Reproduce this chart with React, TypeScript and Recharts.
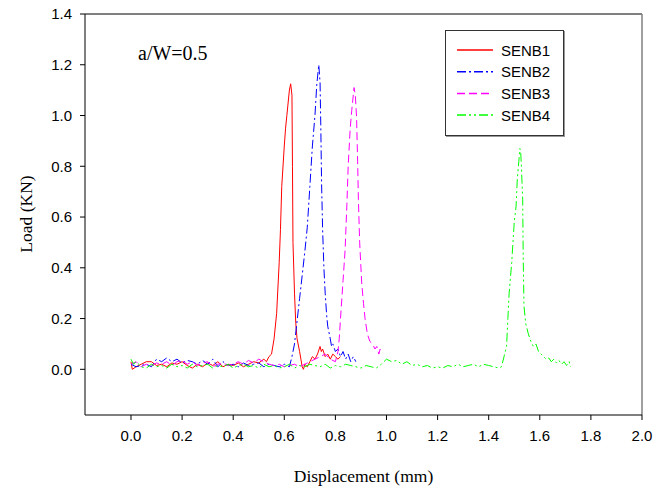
import { Line, LineChart, ReferenceLine, XAxis, YAxis } from "recharts";

const xTicks = [0, 0.2, 0.4, 0.6, 0.8, 1.0, 1.2, 1.4, 1.6, 1.8, 2.0];
const yTicks = [0, 0.2, 0.4, 0.6, 0.8, 1.0, 1.2, 1.4];

// [displacement (mm), load (kN)]
const senb1: [number, number][] = [
  [0, 0.03], [0.005, 0.0], [0.02, 0.01], [0.04, 0.02], [0.06, 0.03], [0.08, 0.03], [0.1, 0.015],
  [0.12, 0.02], [0.14, 0.01], [0.16, 0.025], [0.18, 0.02], [0.2, 0.03], [0.22, 0.015], [0.24, 0.005],
  [0.26, 0.02], [0.28, 0.01], [0.3, 0.025], [0.32, 0.015], [0.34, 0.03], [0.36, 0.01], [0.38, 0.02],
  [0.4, 0.015], [0.42, 0.025], [0.44, 0.01], [0.46, 0.02], [0.48, 0.03], [0.5, 0.025], [0.52, 0.04],
  [0.53, 0.03], [0.54, 0.05], [0.55, 0.06], [0.56, 0.12], [0.57, 0.22], [0.58, 0.42], [0.585, 0.55],
  [0.59, 0.72], [0.6, 0.88], [0.605, 0.95], [0.61, 1.0], [0.62, 1.1], [0.625, 1.125], [0.63, 1.08],
  [0.632, 0.8], [0.634, 0.5], [0.64, 0.3], [0.645, 0.18], [0.65, 0.12], [0.66, 0.07], [0.665, 0.04],
  [0.67, 0.01], [0.675, 0.0], [0.68, 0.02], [0.69, 0.01], [0.7, 0.03], [0.71, 0.05], [0.72, 0.04],
  [0.73, 0.06], [0.74, 0.09], [0.745, 0.07], [0.75, 0.08], [0.76, 0.05], [0.77, 0.06], [0.78, 0.04],
  [0.79, 0.06], [0.8, 0.05], [0.81, 0.04], [0.82, 0.05],
];

const senb2: [number, number][] = [
  [0, 0.02], [0.02, 0.01], [0.04, 0.015], [0.06, 0.02], [0.08, 0.01], [0.1, 0.04], [0.12, 0.03],
  [0.14, 0.045], [0.16, 0.03], [0.18, 0.04], [0.2, 0.025], [0.22, 0.035], [0.24, 0.03], [0.26, 0.02],
  [0.28, 0.035], [0.3, 0.02], [0.32, 0.04], [0.34, 0.01], [0.36, 0.03], [0.38, 0.015], [0.4, 0.02],
  [0.42, 0.01], [0.44, 0.025], [0.46, 0.015], [0.48, 0.02], [0.5, 0.025], [0.52, 0.01], [0.54, 0.02],
  [0.56, 0.015], [0.58, 0.01], [0.6, 0.02], [0.62, 0.01], [0.63, 0.05], [0.64, 0.1], [0.65, 0.19],
  [0.66, 0.28], [0.67, 0.37], [0.68, 0.46], [0.69, 0.56], [0.7, 0.72], [0.71, 0.88], [0.72, 1.0],
  [0.727, 1.12], [0.735, 1.2], [0.74, 1.13], [0.743, 0.95], [0.746, 0.73], [0.75, 0.55], [0.755, 0.4],
  [0.76, 0.3], [0.766, 0.21], [0.77, 0.17], [0.78, 0.12], [0.785, 0.09], [0.79, 0.1], [0.8, 0.07],
  [0.81, 0.08], [0.82, 0.05], [0.83, 0.07], [0.84, 0.04], [0.85, 0.06], [0.86, 0.03], [0.87, 0.05],
  [0.88, 0.03],
];

const senb3: [number, number][] = [
  [0, 0.02], [0.02, 0.03], [0.04, 0.01], [0.06, 0.02], [0.08, 0.015], [0.1, 0.025], [0.12, 0.02],
  [0.14, 0.03], [0.16, 0.015], [0.18, 0.03], [0.2, 0.035], [0.22, 0.02], [0.24, 0.03], [0.26, 0.015],
  [0.28, 0.025], [0.3, 0.03], [0.32, 0.01], [0.34, 0.02], [0.36, 0.025], [0.38, 0.015], [0.4, 0.02],
  [0.42, 0.03], [0.44, 0.02], [0.46, 0.035], [0.48, 0.025], [0.5, 0.04], [0.52, 0.03], [0.54, 0.02],
  [0.56, 0.015], [0.58, 0.02], [0.6, 0.01], [0.62, 0.015], [0.64, 0.02], [0.66, 0.01], [0.68, 0.02],
  [0.7, 0.03], [0.72, 0.04], [0.74, 0.05], [0.76, 0.06], [0.78, 0.04], [0.8, 0.03], [0.81, 0.07],
  [0.815, 0.12], [0.82, 0.2], [0.83, 0.35], [0.838, 0.47], [0.845, 0.65], [0.85, 0.8], [0.858, 0.95],
  [0.864, 1.02], [0.873, 1.11], [0.878, 1.08], [0.883, 0.99], [0.887, 0.82], [0.89, 0.67], [0.895, 0.5],
  [0.903, 0.34], [0.91, 0.26], [0.916, 0.2], [0.925, 0.14], [0.935, 0.11], [0.945, 0.1], [0.955, 0.08],
  [0.962, 0.09], [0.97, 0.06], [0.975, 0.08], [0.98, 0.07],
];

const senb4: [number, number][] = [
  [0, 0.04], [0.01, 0.02], [0.02, 0.03], [0.04, 0.01], [0.06, 0.005], [0.08, 0.02], [0.1, 0.01],
  [0.12, 0.015], [0.14, 0.005], [0.16, 0.02], [0.18, 0.01], [0.2, 0.015], [0.22, 0.005], [0.24, 0.02],
  [0.26, 0.01], [0.28, 0.015], [0.3, 0.02], [0.32, 0.005], [0.34, 0.015], [0.36, 0.01], [0.38, 0.02],
  [0.4, 0.005], [0.42, 0.015], [0.44, 0.02], [0.46, 0.01], [0.48, 0.015], [0.5, 0.005], [0.52, 0.02],
  [0.54, 0.01], [0.56, 0.015], [0.58, 0.005], [0.6, 0.01], [0.62, 0.02], [0.64, 0.005], [0.66, 0.015],
  [0.68, 0.01], [0.7, 0.02], [0.72, 0.015], [0.74, 0.01], [0.76, 0.02], [0.78, 0.005], [0.8, 0.015],
  [0.82, 0.01], [0.84, 0.02], [0.86, 0.015], [0.88, 0.01], [0.9, 0.005], [0.92, 0.015], [0.94, 0.01],
  [0.96, 0.005], [0.98, 0.02], [1.0, 0.04], [1.02, 0.03], [1.04, 0.035], [1.06, 0.02], [1.08, 0.03],
  [1.1, 0.015], [1.12, 0.02], [1.14, 0.01], [1.16, 0.015], [1.18, 0.005], [1.2, 0.01], [1.22, 0.005],
  [1.24, 0.015], [1.26, 0.01], [1.28, 0.02], [1.3, 0.01], [1.32, 0.015], [1.34, 0.02], [1.36, 0.01],
  [1.38, 0.02], [1.4, 0.015], [1.42, 0.01], [1.44, 0.005], [1.45, 0.01], [1.46, 0.05], [1.47, 0.09],
  [1.475, 0.2], [1.48, 0.3], [1.49, 0.42], [1.495, 0.5], [1.5, 0.58], [1.507, 0.64], [1.512, 0.75],
  [1.518, 0.82], [1.522, 0.87], [1.525, 0.86], [1.528, 0.8], [1.533, 0.67], [1.535, 0.45], [1.538, 0.25],
  [1.545, 0.18], [1.555, 0.14], [1.565, 0.11], [1.575, 0.09], [1.585, 0.1], [1.595, 0.07], [1.605, 0.06],
  [1.615, 0.05], [1.625, 0.04], [1.635, 0.045], [1.645, 0.03], [1.655, 0.04], [1.665, 0.025],
  [1.675, 0.035], [1.685, 0.02], [1.695, 0.03], [1.705, 0.015], [1.715, 0.03], [1.72, 0.01],
];

const series = [
  { name: "SENB1", points: senb1, color: "#ff0000", dash: undefined },
  { name: "SENB2", points: senb2, color: "#0000ff", dash: "9 3 2 3" },
  { name: "SENB3", points: senb3, color: "#ff00ff", dash: "8 4" },
  { name: "SENB4", points: senb4, color: "#00ff00", dash: "9 3 2 3 2 3" },
];

const sans = "'Liberation Sans', Arial, sans-serif";
const serif = "'Liberation Serif', 'Times New Roman', serif";

function LegendBox() {
  return (
    <div
      style={{
        position: "absolute",
        left: 445,
        top: 30,
        width: 117,
        height: 104,
        border: "1px solid #333",
        boxShadow: "1px 1px 0 #999",
        background: "#fff",
      }}
    >
      <svg width={117} height={104} style={{ display: "block" }}>
        {series.map((s, i) => {
          const y = 19 + i * 21.7;
          return (
            <g key={s.name}>
              <line x1={11} x2={47} y1={y} y2={y} stroke={s.color} strokeWidth={1.5} strokeDasharray={s.dash} />
              <text x={55} y={y + 5.5} fontSize={15} fontFamily={sans} fill="#000">
                {s.name}
              </text>
            </g>
          );
        })}
      </svg>
    </div>
  );
}

export default function App() {
  return (
    <div style={{ position: "absolute", left: 0, top: 0, width: 670, height: 488, background: "#fff" }}>
      <LineChart width={670} height={488} margin={{ top: 14, right: 28, bottom: 23, left: 20 }}>
        <XAxis
          type="number"
          dataKey="x"
          domain={[-0.18, 2.0]}
          ticks={xTicks}
          allowDataOverflow
          tickFormatter={(v: number) => v.toFixed(1)}
          tick={{ fill: "#000", fontSize: 15, fontFamily: sans }}
          tickSize={5}
          tickMargin={10}
          axisLine={{ stroke: "#000" }}
          tickLine={{ stroke: "#000" }}
          height={50}
          label={{ value: "Displacement (mm)", position: "insideBottom", offset: -17, fill: "#000", fontSize: 17.5, fontFamily: serif }}
        />
        <YAxis
          type="number"
          domain={[-0.18, 1.4]}
          ticks={yTicks}
          allowDataOverflow
          tickFormatter={(v: number) => v.toFixed(1)}
          tick={{ fill: "#000", fontSize: 15, fontFamily: sans }}
          tickSize={5}
          tickMargin={8}
          axisLine={{ stroke: "#000" }}
          tickLine={{ stroke: "#000" }}
          width={65}
        />
        <ReferenceLine y={1.4} stroke="#000" strokeWidth={1} />
        <ReferenceLine x={2.0} stroke="#808080" strokeWidth={1.5} />
        {series.map((s) => (
          <Line
            key={s.name}
            name={s.name}
            data={s.points.map(([x, y]) => ({ x, y }))}
            dataKey="y"
            type="linear"
            stroke={s.color}
            strokeWidth={1}
            strokeDasharray={s.dash}
            dot={false}
            activeDot={false}
            isAnimationActive={false}
          />
        ))}
      </LineChart>
      <svg width={40} height={488} style={{ position: "absolute", left: 0, top: 0 }}>
        <text
          transform="translate(32, 214) rotate(-90)"
          textAnchor="middle"
          fontSize={17.5}
          fontFamily={serif}
          fill="#000"
        >
          Load (KN)
        </text>
      </svg>
      <LegendBox />
      <div
        style={{
          position: "absolute",
          left: 138,
          top: 43,
          fontFamily: serif,
          fontSize: 20,
          lineHeight: "20px",
          color: "#000",
          whiteSpace: "nowrap",
        }}
      >
        a/W=0.5
      </div>
    </div>
  );
}
